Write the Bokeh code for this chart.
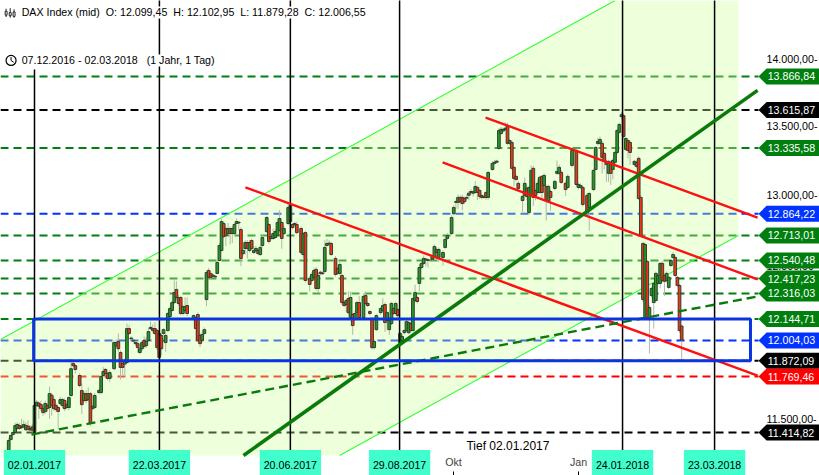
import math
from bokeh.plotting import figure
from bokeh.embed import file_html
from bokeh.resources import INLINE
from bokeh.models import Range1d, FixedTicker, Label, PolyAnnotation

# ---- candles: trading session number (0 = 02.01.2017) and prices
sessions = [
 -12,-11,-10,-9,-8,-7,-6,-5,-4,-3,
 -2,-1,0,1,2,3,4,5,6,7,
 8,9,10,11,12,13,14,15,16,17,
 18,19,21,22,23,24,25,26,27,28,
 30,31,32,33,34,35,37,38,39,40,
 41,42,43,44,45,46,47,48,49,50,
 51,52,53,54,55,56,57,58,59,60,
 61,62,63,64,65,66,67,68,69,70,
 71,74,75,76,77,78,79,80,81,82,
 83,84,85,86,87,88,89,90,91,92,
 93,94,95,96,97,98,99,100,101,102,
 103,104,105,106,108,109,110,111,112,113,
 114,115,116,118,119,120,121,122,124,125,
 126,128,129,130,131,132,133,134,135,136,
 137,138,140,141,142,143,144,145,146,147,
 148,149,150,151,153,154,155,156,157,158,
 159,161,162,163,164,165,166,167,168,169,
 170,171,172,173,174,175,176,177,178,179,
 180,181,182,183,185,186,187,188,190,191,
 192,194,195,196,197,198,199,200,201,202,
 203,204,205,206,207,208,209,210,211,213,
 214,215,216,217,218,219,220,221,222,223,
 224,225,227,228,229,230,231,232,233,234,
 235,236,237,238,239,240,242,243,244,245,
 247,248,250,252,253,254,255,257,258,260,
 261,262,263,264,265,266,267,268,269,270,
 271,272,273,274,275,276,277,279,280,281,
 282,283,284,285,286,287,288,289,290,291,
 292,293,294,295,296,297,298,299,300,301,
]
opens = [
 11272,11371,11402,11415,11440,11458,11455,11450,11432,11455,
 11440,11450,11415,11585,11600,11590,11565,11547,11585,11572,
 11650,11622,11585,11572,11597,11585,11616,11572,11572,11648,
 11853,11840,11776,11680,11616,11660,11622,11660,11565,11572,
 11667,11667,11776,11815,11790,11757,11820,11970,11997,11925,
 11853,11850,11860,12082,12020,12005,11990,11983,11925,11950,
 12004,11970,12004,12082,12082,12082,12069,12050,12037,12050,
 11990,12069,12162,12202,12255,12343,12289,12289,12182,12202,
 12235,12148,12155,12175,12037,12004,12050,12275,12472,12450,
 12440,12433,12452,12540,12609,12796,12761,12726,12761,12726,
 12726,12796,12805,12754,12588,12623,12664,12609,12678,12595,
 12609,12609,12581,12643,12740,12789,12692,12692,12699,12712,
 12747,12803,12726,12796,12810,12789,12789,12789,12761,12581,
 12733,12418,12404,12425,12479,12350,12460,12455,12465,12643,
 12660,12657,12554,12485,12452,12438,12255,12242,12282,12155,
 12175,12148,12188,12255,12155,12303,12249,12195,12148,11957,
 12075,12188,12202,12242,12135,12075,12115,12215,12182,12208,
 11990,12004,12055,12069,12055,12115,12069,12269,12289,12384,
 12492,12520,12550,12545,12547,12561,12616,12561,12561,12630,
 12692,12726,12865,12945,12945,12980,12980,12972,12980,12995,
 13015,13010,13015,13050,13030,12993,12985,13015,12980,13180,
 13224,13232,13332,13442,13460,13472,13493,13369,13376,13195,
 13130,13080,12958,12994,13044,12873,12994,13188,13029,13015,
 13015,13130,13065,13058,12958,13022,13044,13152,13152,13159,
 13080,13051,13209,13317,13051,13051,13051,12994,12908,13036,
 13180,13369,13369,13369,13296,13238,13152,13231,13180,13231,
 13303,13450,13566,13573,13325,13390,13376,13216,13231,13260,
 12980,12657,12155,12533,12155,12302,12255,12269,12384,12384,
 12520,12438,12404,12357,12506,12561,12561,12425,12370,12099,
]
closes = [
 11365,11396,11415,11458,11465,11440,11445,11465,11458,11435,
 11430,11430,11585,11605,11580,11565,11540,11597,11565,11660,
 11585,11565,11560,11547,11622,11622,11565,11590,11635,11820,
 11840,11815,11712,11590,11660,11616,11660,11471,11578,11648,
 11680,11770,11802,11790,11757,11795,11990,11990,11950,11828,
 11828,11873,12082,12050,12015,12000,11983,11957,11950,11990,
 11965,11997,12062,12090,12070,12050,11957,11893,11950,12075,
 12037,12182,12215,12255,12322,12289,12249,12182,12228,12228,
 12182,12168,12082,12004,11983,12043,12075,12458,12425,12425,
 12433,12428,12527,12643,12810,12705,12712,12761,12726,12761,
 12789,12810,12800,12554,12609,12664,12623,12664,12623,12609,
 12623,12588,12630,12699,12838,12671,12705,12726,12740,12803,
 12831,12692,12761,12908,12922,12768,12796,12733,12595,12726,
 12404,12377,12445,12472,12350,12438,12450,12450,12630,12657,
 12655,12581,12445,12452,12513,12255,12235,12269,12188,12289,
 12102,12182,12255,12155,12296,12249,12235,12182,11957,11997,
 12168,12215,12235,12122,12188,12135,12249,12182,12249,12168,
 12050,12030,12069,12128,12122,12069,12282,12322,12262,12492,
 12520,12554,12545,12540,12568,12636,12595,12616,12595,12685,
 12712,12838,12908,12950,12980,12950,12937,12950,12975,13010,
 13022,13020,13058,13015,12987,12980,12980,12980,13158,13224,
 13232,13240,13464,13472,13472,13480,13369,13390,13188,13115,
 13108,13044,12987,13080,12987,13051,13173,12980,12994,13080,
 13123,13015,13137,12958,13058,12980,13094,13166,13195,13087,
 13036,13130,13317,13072,13072,13065,12930,12873,13008,13173,
 13339,13383,13398,13267,13238,13216,13238,13152,13245,13303,
 13464,13508,13580,13420,13405,13317,13303,13238,13202,12972,
 12712,12275,12650,12155,12222,12350,12384,12452,12438,12520,
 12404,12398,12452,12425,12540,12581,12438,12370,12069,12006,
]
highs = [
 11380,11405,11425,11475,11480,11475,11500,11490,11480,11490,
 11460,11470,11600,11620,11610,11615,11575,11615,11600,11705,
 11665,11640,11600,11580,11640,11635,11630,11600,11645,11880,
 11865,11850,11790,11725,11675,11680,11700,11670,11590,11665,
 11690,11780,11830,11825,11800,11810,12005,12010,12050,11940,
 11860,11885,12115,12105,12030,12015,12000,11995,11960,12005,
 12030,12025,12085,12130,12110,12125,12080,12065,12050,12085,
 12050,12195,12230,12270,12405,12400,12305,12300,12240,12290,
 12290,12175,12165,12190,12050,12060,12090,12470,12490,12465,
 12450,12440,12540,12660,12830,12810,12775,12800,12775,12775,
 12800,12830,12815,12770,12625,12680,12680,12680,12690,12640,
 12640,12620,12645,12715,12850,12800,12720,12760,12755,12830,
 12890,12815,12780,12940,12985,12800,12810,12810,12775,12735,
 12745,12435,12460,12490,12495,12455,12470,12465,12680,12690,
 12680,12670,12570,12500,12530,12450,12265,12280,12330,12330,
 12185,12200,12265,12300,12315,12330,12260,12205,12160,12010,
 12180,12225,12285,12255,12195,12145,12260,12225,12260,12220,
 12060,12045,12075,12140,12135,12130,12290,12375,12300,12515,
 12530,12575,12560,12555,12580,12650,12630,12630,12610,12700,
 12730,12855,12925,12965,13000,12995,13000,12985,13000,13025,
 13040,13030,13095,13065,13040,13005,13000,13025,13170,13240,
 13250,13250,13480,13490,13485,13525,13520,13400,13390,13205,
 13140,13095,13000,13120,13060,13060,13209,13205,13040,13110,
 13135,13140,13150,13070,13070,13035,13105,13245,13215,13175,
 13095,13145,13330,13330,13085,13080,13065,13010,13020,13185,
 13350,13410,13420,13385,13310,13250,13250,13245,13260,13320,
 13475,13520,13600,13590,13415,13405,13390,13250,13245,13275,
 12995,12670,12665,12545,12235,12360,12395,12465,12450,12530,
 12535,12450,12465,12435,12550,12600,12575,12435,12380,12103,
]
lows = [
 11260,11360,11395,11405,11430,11430,11435,11440,11425,11425,
 11420,11415,11395,11575,11500,11550,11520,11530,11545,11500,
 11520,11550,11545,11435,11585,11570,11550,11560,11555,11640,
 11830,11790,11700,11530,11605,11600,11610,11455,11555,11560,
 11655,11655,11765,11770,11745,11735,11810,11960,11930,11750,
 11780,11770,11850,12040,12005,11990,11970,11925,11915,11935,
 11950,11955,11995,12075,12055,12040,11940,11880,11905,12040,
 11930,12060,12155,12195,12245,12275,12235,12170,12170,12190,
 12165,12135,12000,11990,11960,11990,12040,12230,12415,12410,
 12425,12420,12445,12535,12600,12695,12640,12715,12650,12660,
 12715,12790,12750,12500,12570,12580,12555,12595,12610,12585,
 12600,12575,12570,12635,12730,12655,12680,12680,12690,12700,
 12735,12620,12715,12785,12800,12755,12775,12720,12580,12560,
 12390,12330,12390,12410,12335,12320,12440,12440,12455,12635,
 12645,12570,12430,12440,12440,12240,12225,12190,12175,12145,
 12040,12135,12140,12145,12150,12240,12225,12170,11945,11945,
 12065,12175,12190,12060,12070,12040,12105,12170,12170,12150,
 11980,11990,12045,12060,12045,12055,12060,12260,12250,12330,
 12480,12510,12500,12490,12535,12550,12560,12530,12505,12620,
 12680,12715,12855,12900,12900,12930,12890,12935,12960,12960,
 13000,12985,13005,12960,12970,12965,12970,12960,12965,13170,
 13215,13225,13320,13430,13450,13460,13355,13355,13175,13060,
 13095,13030,12866,12985,12960,12860,12985,12920,12960,13005,
 13005,12960,13055,12817,12945,12887,13030,13140,13140,13075,
 12990,13040,13195,13060,13035,13040,12915,12860,12747,13025,
 13170,13355,13355,13150,13180,13090,13090,13070,13110,13220,
 13290,13440,13550,13405,13315,13260,13215,13205,13190,12960,
 12700,12260,12145,12145,11918,12290,12082,12255,12370,12350,
 12390,12300,12390,12345,12495,12550,12425,12360,12055,11879,
]

# ---- horizontal levels
level_values = [13866.84,13615.87,13335.58,12864.22,12713.01,12540.48,12417.23,12316.03,12144.71,12004.03,11872.09,11769.46,11414.82]
level_labels = ["13.866,84","13.615,87","13.335,58","12.864,22","12.713,01","12.540,48","12.417,23","12.316,03","12.144,71","12.004,03","11.872,09","11.769,46","11.414,82"]
level_colors = ["#007F0E","#000000","#007F0E","#0033FF","#007F0E","#007F0E","#007F0E","#007F0E","#007F0E","#0033FF","#000000","#FF0000","#000000"]

# ---- price axis
price_ticks = [11500,12000,12500,13000,13500,14000]
price_tick_labels = ["11.500,00-","12.000,00-","12.500,00-","13.000,00-","13.500,00-","14.000,00-"]

# ---- date markers
date_sessions = [0,58.1,119,169.8,273.5,316.3]
date_labels = ["02.01.2017","22.03.2017","20.06.2017","29.08.2017","24.01.2018","23.03.2018"]
date_line_tops = [13920,14500,14500,14500,14500,14500]
month_sessions = [194.9,253]
month_labels = ["Okt","Jan"]

# ---- channel and trend lines (session, price pairs)
channel_s = [-15.81,270,327.4,327.4,141.9,-15.81]
channel_p = [12010,14455,14455,12713,11272,11272]
upper_s, upper_p = [-15.81,270],[12010,14455]
lower_s, lower_p = [141.9,327.4],[11272,12713]
red_s0 = [98.1,209.8,189.8]
red_p0 = [13051,13559,13231]
red_s1 = [336.3,336.3,336.3]
red_p1 = [11776,12838,12411]
support_s,support_p = [97.2,336.3],[11272,13762]
dashed_s,dashed_p = [-1.4,336.3],[11402,12296]
box_s0,box_s1,box_top,box_bottom = -0.4,333,12144.71,11872.09
icon_s = [-13.2,-11.3,-9.5]
icon_hi = [14390,14395,14385]
icon_lo = [14325,14320,14320]
icon_box_top = [14370,14360,14365]
icon_box_bottom = [14340,14335,14330]

PX_PER_LOG = 1829.5   # pixels per unit of ln(price)
GREEN,RED,WICK,EDGE = "#229C22","#FA3214","#B4B8A8","#2F3F2F"
FONT = "Liberation Sans"
FS = "10.67px"
X0,X1 = -15.81,365.1
LEVEL_END = 336.74

p = figure(frame_width=819, frame_height=475, min_border_left=0, min_border_top=0,
           min_border_right=0, min_border_bottom=0,
           x_range=Range1d(X0,X1), y_range=Range1d(11149.7,14455),
           y_axis_type="log", y_axis_location="right",
           output_backend="svg", toolbar_location=None)
p.grid.visible = False
p.outline_line_color = None
p.background_fill_color = "white"
p.border_fill_color = "white"

ya = p.yaxis[0]
ya.ticker = FixedTicker(ticks=price_ticks)
ya.major_label_overrides = dict(zip(price_ticks, price_tick_labels))
ya.axis_line_color = None
ya.major_tick_line_color = None
ya.minor_tick_line_color = None
ya.major_tick_in = 0
ya.major_tick_out = 0
ya.major_label_standoff = -53
ya.major_label_text_font = FONT
ya.major_label_text_font_size = FS
ya.major_label_text_color = "black"
ya.major_label_text_baseline = "alphabetic"

xa = p.xaxis[0]
all_ticks = date_sessions + month_sessions
xa.ticker = FixedTicker(ticks=all_ticks)
xa.major_label_overrides = {**{d: "" for d in date_sessions}, **dict(zip(month_sessions, month_labels))}
xa.axis_line_color = None
xa.minor_tick_line_color = None
xa.major_tick_line_color = "black"
xa.major_tick_in = 4
xa.major_tick_out = 0
xa.major_label_standoff = -20
xa.major_label_text_font = FONT
xa.major_label_text_font_size = FS

# levels, under the translucent channel
for v, c in zip(level_values, level_colors):
    p.segment(x0=[X0], y0=[v], x1=[LEVEL_END], y1=[v], line_color=c, line_width=2, line_dash="8 5")

p.patch(channel_s, channel_p, fill_color="#CCFF99", fill_alpha=0.35, line_color=None)
p.line(upper_s, upper_p, line_color="#33FF33", line_width=1.1)
p.line(lower_s, lower_p, line_color="#33FF33", line_width=1.1)

# candles
p.segment(x0=sessions, y0=highs, x1=sessions, y1=lows, line_color=WICK, line_width=1)
colors = [GREEN if c >= o else RED for o, c in zip(opens, closes)]
bottoms = [min(o, c) for o, c in zip(opens, closes)]
tops = [max(o, c) for o, c in zip(opens, closes)]
p.vbar(x=sessions, bottom=bottoms, top=tops, width=1.25, fill_color=colors, line_color=EDGE, line_width=1)

# verticals
p.segment(x0=date_sessions, y0=[11272]*6, x1=date_sessions, y1=date_line_tops, line_color="black", line_width=1.5)

# trend lines
p.segment(x0=red_s0, y0=red_p0, x1=red_s1, y1=red_p1, line_color="#FF1010", line_width=2.4)
p.line(support_s, support_p, line_color="#0B7A0B", line_width=3.6)
p.line(dashed_s, dashed_p, line_color="#0B7A0B", line_width=2.4, line_dash="9 5")
p.quad(left=[box_s0], right=[box_s1], top=[box_top], bottom=[box_bottom], fill_color=None, line_color="#0A34E0", line_width=3)

# header
def hdr(text, s, price):
    p.add_layout(Label(x=s, y=price, text=text, text_font=FONT, text_font_size=FS, text_color="black",
                       text_baseline="middle", background_fill_color="white", padding=(2, 0)))
hdr("DAX Index (mid)\u00a0\u00a0O: 12.099,45\u00a0\u00a0H: 12.102,95\u00a0\u00a0L: 11.879,28\u00a0\u00a0C: 12.006,55", -6.9, 14361)
hdr("07.12.2016 - 02.03.2018\u00a0\u00a0\u00a0(1 Jahr, 1 Tag)", -6.9, 13989)
# small header icons
p.segment(x0=icon_s, y0=icon_hi, x1=icon_s, y1=icon_lo, line_color="#222222", line_width=1)
p.vbar(x=icon_s, bottom=icon_box_bottom, top=icon_box_top, width=0.9, fill_color="white", line_color="#222222", line_width=1)
p.scatter([-10.9], [13989], marker="circle", size=10, fill_color=None, line_color="black", line_width=1.2)
p.segment(x0=[-10.9,-10.9], y0=[13989,13989], x1=[-10.9,-9.7], y1=[14015,13975], line_color="black", line_width=1)

p.add_layout(Label(x=200.9, y=11330, text="Tief 02.01.2017", text_font=FONT, text_font_size="12px",
                   text_baseline="middle", text_color="black"))

# date tags
for s, t in zip(date_sessions, date_labels):
    p.add_layout(Label(x=s, y=11214, text=t, text_align="center", text_baseline="middle", text_font=FONT,
                       text_font_size=FS, text_color="black", background_fill_color="#40FFCC", padding=(4, 11)))

# price tags
for v, t, c in zip(level_values, level_labels, level_colors):
    up, dn = v*math.exp(8/PX_PER_LOG), v*math.exp(-8/PX_PER_LOG)
    p.add_layout(PolyAnnotation(xs=[LEVEL_END,340.5,X1,X1,340.5], ys=[v,up,up,dn,dn],
                                fill_color=c, fill_alpha=1, line_color=None, level="overlay"))
    p.add_layout(Label(x=341, y=v, text=t, text_baseline="middle", text_font=FONT, text_font_size=FS,
                       text_color="white", level="overlay"))

open("out.html", "w").write(file_html(p, INLINE))
